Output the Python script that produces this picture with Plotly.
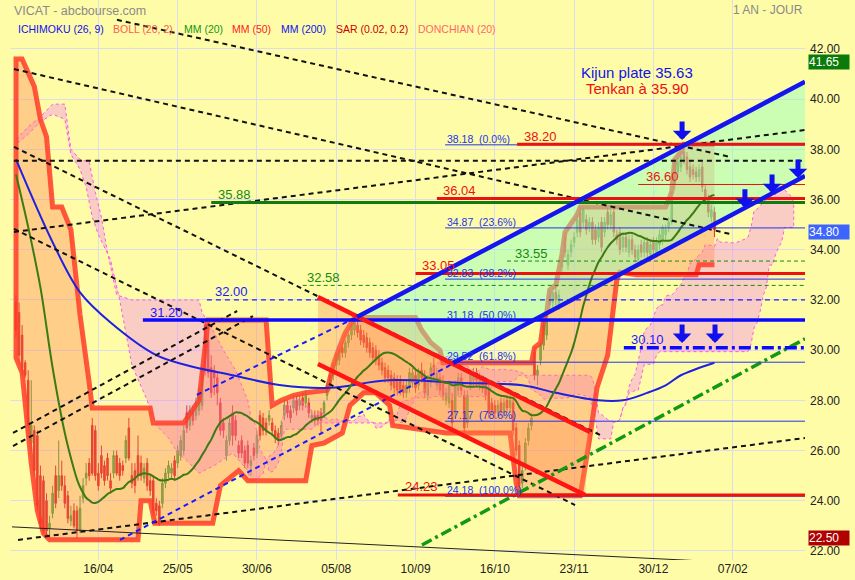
import pandas as pd
import plotly.graph_objects as go

# ---------------- data (trading-day index 0..229) ----------------
opens = [31.9, 31.5, 30.6, 29.5, 28.8, 26.3, 26.8, 26.6, 25.0, 24.8,
         24.0, 22.9, 23.5, 25.0, 24.4, 25.0, 24.6, 24.2, 23.2, 23.6,
         23.6, 22.8, 24.1, 24.9, 25.5, 27.0, 26.8, 25.1, 25.8, 25.4,
         25.7, 24.8, 25.1, 25.8, 25.5, 25.4, 25.7, 26.9, 25.0, 25.2,
         25.8, 25.5, 24.9, 25.5, 24.8, 24.8, 23.9, 23.8, 23.9, 24.7,
         25.1, 25.1, 25.6, 25.5, 25.8, 26.0, 27.5, 27.0, 27.6, 27.4,
         27.6, 27.8, 31.0, 30.4, 29.3, 29.2, 28.9, 27.9, 27.1, 25.8,
         26.4, 27.5, 27.2, 26.2, 26.4, 26.0, 26.2, 25.4, 26.1, 25.9,
         27.4, 27.3, 27.1, 27.2, 27.1, 26.8, 26.7, 26.6, 27.4, 27.8,
         27.6, 27.7, 28.0, 27.8, 28.1, 27.9, 27.9, 27.3, 27.4, 27.4,
         27.5, 27.5, 28.2, 28.6, 29.0, 29.4, 29.6, 30.1, 29.9, 30.3,
         30.6, 30.8, 31.0, 30.8, 30.6, 30.5, 30.3, 30.1, 30.0, 29.8,
         29.5, 29.3, 29.2, 29.0, 28.9, 28.8, 28.8, 28.6, 28.3, 28.5,
         28.7, 29.0, 28.6, 29.2, 29.0, 28.2, 28.7, 29.4, 28.6, 28.9,
         28.8, 28.0, 27.9, 28.0, 27.5, 28.4, 28.9, 28.2, 27.1, 28.6,
         28.8, 29.1, 28.6, 28.8, 28.7, 28.4, 27.9, 27.8, 27.5, 27.9,
         27.5, 28.0, 27.7, 27.9, 26.9, 26.2, 24.7, 25.4, 26.4, 27.0,
         29.9, 29.0, 29.6, 30.2, 30.6, 31.8, 31.9, 32.3, 31.8, 33.3,
         34.5, 33.4, 33.9, 34.3, 34.7, 35.5, 35.1, 35.2, 34.9, 35.1,
         34.8, 34.5, 35.1, 34.7, 35.5, 35.0, 35.5, 34.6, 34.7, 34.1,
         34.5, 33.9, 34.4, 34.0, 33.6, 34.2, 33.9, 34.3, 33.8, 34.3,
         33.9, 34.2, 34.4, 34.6, 34.9, 35.1, 36.6, 37.1, 37.3, 37.9,
         37.7, 37.3, 37.2, 37.1, 36.9, 37.3, 36.4, 36.0, 35.3, 35.5]
highs = [32.2, 31.9, 31.0, 29.6, 29.2, 28.8, 27.0, 26.8, 25.4, 25.0,
         24.3, 23.4, 24.6, 25.4, 26.4, 25.6, 25.0, 24.4, 23.8, 23.9,
         23.8, 24.2, 24.9, 25.5, 25.7, 27.3, 27.0, 25.5, 26.2, 25.6,
         25.9, 25.1, 26.0, 26.0, 25.7, 25.6, 26.6, 27.3, 25.5, 25.5,
         26.6, 25.8, 25.5, 25.7, 25.0, 25.0, 24.1, 24.0, 24.9, 25.3,
         25.6, 25.5, 25.8, 26.2, 26.6, 27.0, 27.8, 27.8, 27.8, 28.1,
         28.5, 29.4, 31.2, 30.6, 29.8, 29.4, 29.1, 28.1, 27.3, 26.6,
         27.3, 27.8, 27.4, 26.4, 26.6, 26.2, 26.4, 25.8, 26.3, 26.8,
         27.6, 27.5, 27.3, 27.6, 27.3, 27.0, 26.9, 27.2, 28.0, 28.0,
         27.8, 28.2, 28.2, 28.2, 28.3, 28.4, 28.1, 27.6, 27.6, 27.6,
         27.7, 28.0, 28.7, 29.1, 29.5, 29.9, 30.1, 30.3, 30.4, 30.7,
         31.1, 31.3, 31.2, 31.0, 30.8, 30.7, 30.5, 30.3, 30.2, 30.0,
         29.7, 29.5, 29.4, 29.2, 29.1, 29.0, 29.0, 28.8, 28.8, 29.3,
         29.3, 29.2, 29.3, 29.5, 29.2, 29.0, 29.5, 29.7, 29.3, 29.1,
         29.0, 28.5, 28.8, 28.3, 28.8, 29.1, 29.1, 28.4, 28.4, 29.2,
         29.3, 29.3, 29.1, 29.0, 28.9, 28.6, 28.1, 28.0, 28.0, 28.1,
         28.1, 28.2, 28.2, 28.1, 27.1, 26.4, 25.4, 26.5, 27.1, 27.5,
         30.1, 29.4, 30.3, 31.2, 31.5, 32.4, 32.5, 32.6, 32.4, 33.8,
         34.7, 34.0, 34.4, 34.7, 35.4, 35.7, 35.7, 35.4, 35.3, 35.3,
         35.0, 35.1, 35.3, 35.3, 35.7, 35.6, 35.7, 34.8, 34.9, 34.7,
         34.7, 34.6, 34.6, 34.2, 34.2, 34.4, 34.5, 34.5, 34.4, 34.5,
         34.5, 34.8, 35.0, 35.0, 35.3, 36.3, 37.6, 37.7, 37.9, 38.18,
         37.9, 37.5, 37.4, 37.3, 37.4, 37.5, 36.6, 36.2, 35.8, 35.7]
lows = [30.5, 29.5, 29.0, 28.9, 26.9, 26.0, 25.0, 23.6, 22.9, 22.7,
        22.6, 22.5, 23.3, 23.7, 24.1, 24.4, 23.7, 23.1, 23.0, 22.9,
        22.5, 22.7, 23.9, 24.6, 24.8, 25.0, 24.8, 24.4, 24.9, 24.6,
        24.8, 24.3, 24.9, 25.0, 24.8, 25.0, 25.5, 25.6, 24.5, 24.3,
        24.8, 24.8, 24.7, 24.4, 24.2, 23.4, 23.4, 23.0, 23.7, 24.5,
        24.9, 24.9, 24.8, 25.3, 25.6, 25.8, 26.7, 26.8, 27.0, 27.2,
        27.4, 27.6, 29.0, 28.9, 28.1, 28.2, 27.8, 26.6, 26.5, 25.6,
        26.2, 26.2, 26.4, 25.7, 25.7, 25.3, 25.3, 25.0, 25.6, 25.7,
        26.4, 26.6, 26.6, 27.0, 26.6, 26.3, 26.2, 26.4, 27.2, 27.3,
        27.1, 27.5, 27.4, 27.6, 27.6, 27.7, 27.3, 27.1, 27.0, 27.0,
        26.7, 27.3, 28.0, 28.4, 28.8, 29.2, 29.4, 29.7, 29.7, 30.1,
        30.4, 30.6, 30.5, 30.2, 30.1, 29.9, 29.7, 29.5, 29.4, 29.2,
        29.0, 28.7, 28.7, 28.4, 28.3, 28.2, 28.2, 28.1, 28.1, 28.3,
        28.5, 28.3, 28.4, 28.7, 28.1, 28.0, 28.5, 28.9, 28.4, 28.2,
        28.0, 27.8, 27.7, 26.9, 27.3, 28.2, 28.2, 26.7, 26.9, 28.4,
        28.6, 28.6, 28.4, 28.3, 28.0, 27.3, 27.4, 27.3, 27.3, 27.4,
        27.3, 27.5, 27.5, 26.6, 25.8, 24.18, 24.5, 25.2, 26.2, 26.8,
        28.8, 28.6, 29.4, 30.0, 30.4, 31.6, 31.7, 31.8, 31.6, 33.0,
        33.7, 33.2, 33.7, 34.1, 34.5, 34.5, 34.9, 34.6, 34.7, 34.2,
        34.2, 34.3, 33.9, 34.5, 34.8, 34.8, 34.5, 34.2, 33.8, 33.9,
        33.9, 33.7, 33.8, 33.5, 33.4, 33.7, 33.7, 33.7, 33.6, 33.8,
        33.7, 34.0, 34.2, 34.4, 34.7, 35.0, 36.4, 36.9, 37.1, 37.4,
        37.0, 36.7, 36.8, 36.7, 36.7, 36.3, 35.8, 35.3, 35.1, 34.5]
closes = [30.8, 29.8, 29.3, 29.0, 27.0, 27.0, 25.2, 23.8, 23.1, 22.8,
          22.8, 23.1, 24.3, 23.9, 25.0, 24.6, 23.9, 23.3, 23.4, 23.0,
          22.8, 23.7, 24.6, 25.1, 25.0, 25.1, 25.0, 24.6, 25.1, 24.8,
          25.0, 24.5, 25.8, 25.1, 25.0, 25.2, 26.4, 25.7, 24.7, 24.6,
          25.0, 25.0, 25.3, 24.6, 24.4, 23.6, 23.6, 23.1, 24.7, 25.1,
          25.4, 25.3, 25.0, 26.0, 26.4, 26.8, 26.9, 27.6, 27.2, 27.9,
          28.3, 29.2, 29.2, 29.1, 28.3, 28.9, 28.3, 26.8, 26.8, 26.4,
          27.1, 26.6, 26.6, 25.9, 25.9, 25.5, 25.5, 25.6, 25.8, 26.6,
          26.6, 26.8, 26.8, 27.4, 26.8, 26.5, 26.4, 27.0, 27.8, 27.5,
          27.3, 28.0, 27.6, 28.0, 27.8, 28.2, 27.5, 27.4, 27.2, 27.2,
          27.2, 27.9, 28.6, 29.0, 29.4, 29.8, 30.0, 29.9, 30.3, 30.6,
          31.0, 31.1, 30.7, 30.4, 30.3, 30.1, 29.9, 29.7, 29.6, 29.4,
          29.2, 28.9, 28.9, 28.6, 28.5, 28.4, 28.4, 28.3, 28.6, 29.1,
          29.1, 28.5, 29.1, 28.9, 28.3, 28.8, 29.3, 29.1, 29.1, 28.4,
          28.2, 28.3, 28.6, 27.1, 28.6, 28.9, 28.4, 26.9, 28.2, 29.0,
          29.1, 28.8, 28.9, 28.5, 28.2, 27.5, 27.6, 27.5, 27.8, 27.6,
          27.9, 27.7, 28.0, 26.8, 26.0, 24.6, 25.2, 26.3, 26.9, 27.3,
          29.0, 29.2, 30.2, 31.0, 31.2, 32.2, 32.3, 32.0, 32.2, 33.6,
          33.9, 33.8, 34.2, 34.5, 35.2, 34.7, 35.6, 34.8, 35.1, 34.4,
          34.4, 34.9, 34.1, 35.1, 35.0, 35.4, 34.7, 34.4, 34.0, 34.5,
          34.1, 34.4, 34.0, 33.7, 34.0, 33.9, 34.3, 33.9, 34.2, 34.0,
          34.3, 34.6, 34.9, 34.8, 35.1, 36.1, 37.5, 37.5, 37.7, 37.6,
          37.2, 36.9, 37.0, 36.9, 37.2, 36.5, 36.0, 35.5, 35.6, 34.8]
days = list(range(len(closes)))

tick_days = [27, 53, 79, 105, 131, 157, 183, 209, 235]
tick_labels = ["16/04", "25/05", "30/06", "05/08", "10/09", "16/10", "23/11", "30/12", "07/02"]

# indicator values read from the picture where history is not visible
mm20_early_days = [0, 4, 8, 12, 16]
mm20_early_vals = [37.0, 34.9, 32.5, 29.3, 26.7]

mm200_days = [0, 12, 21, 31, 46, 56, 71, 87, 103, 122, 145, 166, 177, 191, 199, 207, 213, 218, 229]
mm200_vals = [37.6, 34.3, 32.3, 31.1, 29.8, 29.4, 29.0, 28.6, 28.5, 28.8, 28.7, 28.6, 28.3, 28.0, 28.0, 28.3, 28.6, 29.0, 29.5]

donch_up_days = [0, 2, 4, 6, 8, 10, 12, 15, 18, 21, 24, 25, 44, 45, 55, 60, 63, 82, 84, 87, 91, 95,
                 102, 104, 106, 108, 111, 131, 133, 136, 139, 140, 169, 170, 172, 173, 174, 175, 177,
                 179, 180, 184, 185, 213, 215, 216, 218, 219, 229]
donch_up_vals = [41.6, 41.6, 41.0, 40.5, 39.2, 38.5, 35.7, 35.7, 34.8, 31.4, 28.7, 27.7, 27.7, 27.1, 27.1, 28.0,
                 31.2, 31.2, 27.8, 28.0, 28.2, 28.3, 28.4, 29.4, 30.1, 30.7, 31.3, 31.3, 30.8, 30.3, 30.0,
                 29.5, 29.5, 30.1, 30.3, 31.2, 31.5, 32.4, 32.6, 33.8, 34.7, 35.4, 35.7, 35.7, 36.3, 37.6,
                 37.9, 38.2, 38.2]
donch_lo_days = [0, 2, 4, 5, 7, 9, 11, 40, 41, 44, 45.5, 64.5, 67, 73, 76, 95, 97, 101, 107, 109.5,
                 114, 118, 122.5, 123.5, 141, 162, 164, 165, 185, 188, 190.5, 194, 197, 198, 203.5,
                 223, 224, 229]
donch_lo_vals = [29.7, 29.1, 26.7, 25.5, 23.6, 22.7, 22.45, 22.45, 24.0, 24.0, 23.1, 23.1, 24.6, 25.2, 24.8,
                 24.8, 26.2, 26.3, 26.7, 27.8, 28.3, 28.3, 27.8, 27.0, 26.7, 26.7, 24.7, 24.2, 24.2, 26.4,
                 28.5, 29.8, 32.8, 33.1, 33.0, 33.0, 33.4, 33.4]

kumo_hi_early_days = [0, 4, 8, 12, 16, 18, 21, 24, 26, 28, 30, 33, 38, 60, 61, 65, 68, 72, 76]
kumo_hi_early_vals = [38.4, 38.9, 39.3, 39.8, 39.8, 38.0, 37.6, 37.5, 36.3, 35.3, 33.9, 32.2, 32.0, 32.0,
                      31.5, 30.7, 30.0, 29.2, 28.0]
kumo_lo_early_days = [0, 4, 8, 12, 16, 18, 21, 23, 25, 27, 31, 34, 38, 43, 46, 50, 53, 56, 60, 65, 71, 76]
kumo_lo_early_vals = [38.2, 38.6, 39.1, 39.4, 39.2, 37.8, 37.2, 36.5, 35.3, 34.6, 33.6, 32.0, 29.4, 28.0,
                      27.0, 26.5, 25.9, 25.6, 25.1, 25.4, 25.9, 25.2]

# horizontal levels: value, first day
level_vals = [38.20, 37.55, 36.60, 36.04, 35.88, 33.55, 33.05, 32.58, 32.00, 31.20, 30.10, 24.23]
level_start = [164.3, -0.7, 204.0, 138.0, 64.0, 161.0, 131.0, 94.0, 62.6, 41.6, 199.3, 125.2]
level_label_day = [165.9, None, 205.9, 139.3, 65.6, 163.0, 132.5, 94.8, 64.6, 43.3, 201.0, 126.9]

fib_vals = [38.18, 34.87, 32.83, 31.18, 29.52, 27.17, 24.18]
fib_pcts = ["0.0%", "23.6%", "38.2%", "50.0%", "61.8%", "78.6%", "100.0%"]
fib_start = 140.7

# trend lines: (day0, price0, day1, price1)
black_dashed = [(-0.66, 41.20, 234.1, 34.63), (33.1, 43.16, 234.1, 37.70), (-0.66, 38.10, 191.5, 26.62),
                (-0.66, 34.83, 183.3, 23.83), (-0.98, 26.70, 72.5, 31.56), (-0.98, 26.18, 77.7, 31.36),
                (-0.66, 34.71, 258.7, 38.77), (0.66, 22.44, 258.7, 26.50)]
black_solid = [(-1.31, 22.96, 258.7, 21.40)]
blue_dashed = [(34.1, 22.44, 145.6, 29.61), (59.3, 28.22, 111.8, 31.32)]
green_dashdot = [(133.1, 22.24, 258.7, 30.45)]
blue_channel = [(111.8, 31.32, 258.7, 40.69), (143.3, 29.49, 258.7, 36.94)]
red_channel = [(99.0, 32.12, 188.2, 26.74), (99.0, 29.45, 186.6, 24.23)]

arrow_days = [218.4, 239.0, 247.9, 256.4, 218.4, 229.2]
arrow_prices = [38.37, 35.67, 36.26, 36.86, 30.29, 30.29]

# ---------------- indicators ----------------
n = len(closes)
H = pd.Series(highs)
L = pd.Series(lows)
C = pd.Series(closes)
mm20 = C.rolling(20).mean()
tenkan = (H.rolling(9).max() + L.rolling(9).min()) / 2
kijun = (H.rolling(26).max() + L.rolling(26).min()) / 2
ssa = ((tenkan + kijun) / 2).iloc[51:].tolist()
ssb = ((H.rolling(52).max() + L.rolling(52).min()) / 2).iloc[51:].tolist()
shift_days = [d + 26 for d in range(51, n)]
kumo_hi_x = kumo_hi_early_days + shift_days
kumo_hi_y = kumo_hi_early_vals + ssb
kumo_lo_x = kumo_lo_early_days + shift_days
kumo_lo_y = kumo_lo_early_vals + ssa

BG = "#fffca8"
FONT = "Liberation Sans, Arial, sans-serif"
fig = go.Figure()

# Ichimoku cloud
fig.add_trace(go.Scatter(x=kumo_hi_x + kumo_lo_x[::-1], y=kumo_hi_y + kumo_lo_y[::-1], fill="toself",
                         fillcolor="rgba(240,110,255,0.33)", mode="lines",
                         line=dict(color="#ff55ee", width=1, dash="dot"), hoverinfo="skip"))
# Donchian band
fig.add_trace(go.Scatter(x=donch_up_days + donch_lo_days[::-1], y=donch_up_vals + donch_lo_vals[::-1],
                         fill="toself", fillcolor="rgba(255,140,90,0.40)", mode="none", hoverinfo="skip"))
fig.add_trace(go.Scatter(x=donch_lo_days[::-1] + donch_up_days, y=donch_lo_vals[::-1] + donch_up_vals,
                         mode="lines", line=dict(color="rgba(255,60,40,0.85)", width=5), hoverinfo="skip"))
# falling (red) channel fill
ru, rl = red_channel
fig.add_trace(go.Scatter(x=[ru[0], ru[2], rl[2], rl[0]], y=[ru[1], ru[3], rl[3], rl[1]], fill="toself",
                         fillcolor="rgba(255,140,80,0.35)", mode="none", hoverinfo="skip"))
# rising (blue) channel fill
bu, bl = blue_channel
fig.add_trace(go.Scatter(x=[bu[0], bu[2], bl[2], bl[0]], y=[bu[1], bu[3], bl[3], bl[1]], fill="toself",
                         fillcolor="rgba(140,255,190,0.45)", mode="none", hoverinfo="skip"))

# candles
fig.add_trace(go.Candlestick(x=days, open=opens, high=highs, low=lows, close=closes,
                             increasing=dict(line=dict(color="#3a9a2a", width=1), fillcolor="#44cc33"),
                             decreasing=dict(line=dict(color="#d01818", width=1), fillcolor="#ee1111"),
                             hoverinfo="skip"))
# moving averages
fig.add_trace(go.Scatter(x=mm200_days, y=mm200_vals, mode="lines", line=dict(color="#2020e0", width=2, shape="spline"),
                         hoverinfo="skip"))
fig.add_trace(go.Scatter(x=mm20_early_days + days[19:], y=mm20_early_vals + mm20.iloc[19:].tolist(), mode="lines",
                         line=dict(color="#3c7a14", width=2, shape="spline"), hoverinfo="skip"))

XEND = 262


def seg(s, color, width, dash="solid"):
    fig.add_shape(type="line", xref="x", yref="y", x0=s[0], y0=s[1], x1=s[2], y1=s[3],
                  line=dict(color=color, width=width, dash=dash), layer="above")


for s in black_solid:
    seg(s, "#222222", 1)
for s in black_dashed:
    seg(s, "#111111", 2, "5px,4px")
for s in blue_dashed:
    seg(s, "#1a1aff", 2, "5px,4px")
for s in green_dashdot:
    seg(s, "#129912", 3.5, "11px,4px,3px,4px")

# fibonacci levels
for v, p in zip(fib_vals, fib_pcts):
    seg((fib_start, v, XEND, v), "#2233ee", 1)
    fig.add_annotation(x=fib_start, y=v, xref="x", yref="y", text=f"{v:.2f}&nbsp; ({p})", showarrow=False,
                       xanchor="left", yanchor="middle", yshift=6, font=dict(family=FONT, size=10.5, color="#2233ee"))

level_styles = [("#ee1111", 3, "solid"), ("#111111", 2, "5px,4px"), ("#ee1111", 1, "solid"),
                ("#ee1111", 3, "solid"), ("#137a13", 3, "solid"), ("#138a13", 1, "4px,3px"),
                ("#ee1111", 3, "solid"), ("#138a13", 1, "4px,3px"), ("#1a1aff", 1.3, "5px,4px"),
                ("#0a0aff", 3.5, "solid"), ("#0a0aff", 3.5, "12px,4px,3px,4px"), ("#ee1111", 3, "solid")]
label_colors = ["#ee1111", None, "#ee1111", "#ee1111", "#138a13", "#138a13", "#ee1111", "#138a13",
                "#1a1aff", "#1a1aff", "#1a1aff", "#ee1111"]
for v, st, lab, (col, w, d), lc in zip(level_vals, level_start, level_label_day, level_styles, label_colors):
    seg((st, v, XEND, v), col, w, d)
    if lab is not None:
        fig.add_annotation(x=lab, y=v, xref="x", yref="y", text=f"{v:.2f}", showarrow=False, xanchor="left",
                           yanchor="middle", yshift=8, font=dict(family=FONT, size=13, color=lc))

for s in red_channel:
    seg(s, "#ff1515", 4.5)
for s in blue_channel:
    seg(s, "#1515f0", 4.5)

# arrows
for d, p in zip(arrow_days, arrow_prices):
    fig.add_annotation(x=d, y=p, xref="x", yref="y", ax=0, ay=-20, axref="pixel", ayref="pixel",
                       showarrow=True, arrowhead=1, arrowsize=0.62, arrowwidth=5, arrowcolor="#1010ee", text="")


# header texts
def ptext(px, py, text, color, size, anchor="left"):
    fig.add_annotation(x=(px - 10) / 795, y=1 - py / 560, xref="paper", yref="paper", text=text, showarrow=False,
                       xanchor=anchor, yanchor="middle", font=dict(family=FONT, size=size, color=color))


ptext(12, 11, "VICAT - abcbourse.com", "#8a8a8a", 12.5)
ptext(805, 10, "1 AN - JOUR", "#8a8a8a", 12, "right")
legend_items = [(16, "ICHIMOKU (26, 9)", "#1010ee"), (111, "BOLL (20, 2)", "#ff5a5a"), (182, "MM (20)", "#119911"),
                (230, "MM (50)", "#ff2020"), (279, "MM (200)", "#1010ee"), (334, "SAR (0.02, 0.2)", "#cc0000"),
                (416, "DONCHIAN (20)", "#ff6666")]
for px, t, c in legend_items:
    ptext(px, 29, t, c, 10.5)
ptext(637, 72, "Kijun plate 35.63", "#1111ee", 15, "center")
ptext(637, 88, "Tenkan à 35.90", "#ee1111", 15, "center")

# price boxes on the right axis
for v, col, ys in [(41.65, "#0a7a0a", -4), (34.80, "#3c64ff", -2), (22.50, "#b00000", 0)]:
    fig.add_annotation(x=1.004, y=v, xref="paper", yref="y", text=f"{v:.2f}", showarrow=False, xanchor="left",
                       yanchor="middle", yshift=ys, bgcolor=col, borderpad=0, width=40, align="left",
                       font=dict(family=FONT, size=12, color="white"))

fig.update_layout(width=855, height=580, margin=dict(l=10, r=50, t=0, b=20), paper_bgcolor=BG, plot_bgcolor=BG,
                  showlegend=False, font=dict(family=FONT, size=12, color="#222222"))
fig.update_xaxes(range=[-1.97, 258.7], tickvals=tick_days, ticktext=tick_labels, showgrid=True,
                 gridcolor="#dcdcee", zeroline=False, showline=False, rangeslider=dict(visible=False),
                 tickfont=dict(family=FONT, size=12, color="#222222"))
fig.update_yaxes(side="right", range=[21.64, 43.95], tick0=22, dtick=2, tickformat=".2f", showgrid=True,
                 gridcolor="#dcdcee", zeroline=False, showline=False, ticklabelstandoff=4,
                 tickfont=dict(family=FONT, size=12, color="#222222"))

fig.write_html("out.html", config={"displayModeBar": False},
               post_script="document.body.style.margin='0px';document.body.style.padding='0px';")
